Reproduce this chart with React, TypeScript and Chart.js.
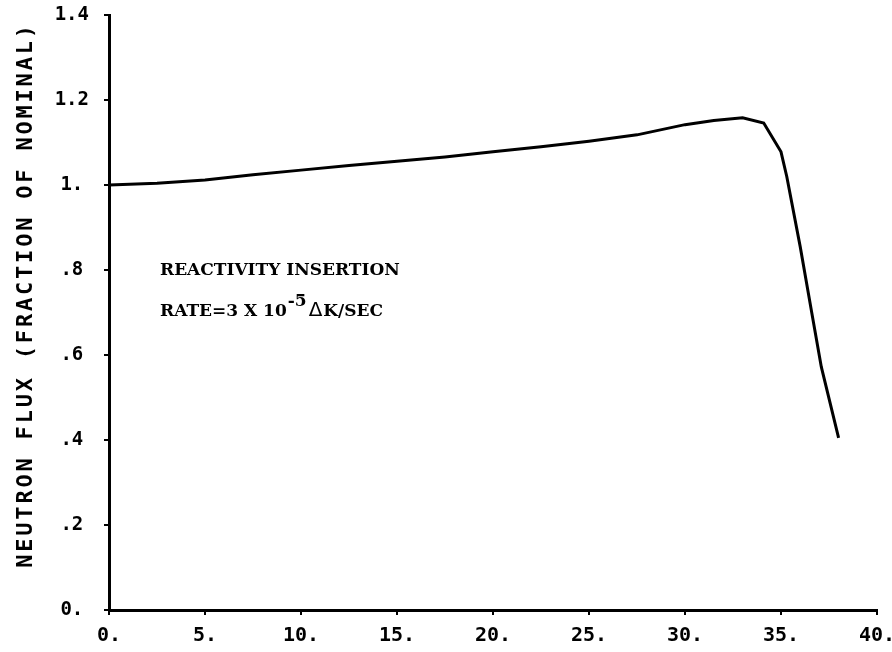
import React, { useEffect, useRef } from "react";
import { Chart, registerables } from "chart.js";

Chart.register(...registerables);

// Reactor transient: time (s) vs. neutron flux (fraction of nominal)
const timeSec = [0, 2.5, 5, 7.5, 10, 12.5, 15, 17.5, 20, 22.5, 25, 27.5, 30, 31.5, 33, 34.1, 35, 35.3, 36, 36.6, 37.1, 38];
const flux = [1.0, 1.004, 1.012, 1.024, 1.035, 1.046, 1.056, 1.066, 1.078, 1.09, 1.103, 1.118, 1.142, 1.152, 1.158, 1.146, 1.078, 1.02, 0.855, 0.7, 0.572, 0.405];

const xTicks = [0, 5, 10, 15, 20, 25, 30, 35, 40];
const yTicks = [0, 0.2, 0.4, 0.6, 0.8, 1.0, 1.2, 1.4];

const yTitle = "NEUTRON FLUX (FRACTION OF NOMINAL)";
const noteLine1 = "REACTIVITY INSERTION";
const noteLine2 = "RATE=3 X 10";
const noteExponent = "-5";
const noteDelta = "\u0394";
const noteUnit = "K/SEC";

const tickFont = "'DejaVu Sans Mono', monospace";
const noteFont = "'DejaVu Serif', 'Liberation Serif', serif";

// Plotter-style tick text: "0." for zero, ".8" for fractions, "1.2" otherwise
function fmtX(v: number): string {
  return `${Math.round(v)}.`;
}
function fmtY(v: number): string {
  const r = Math.round(v * 10) / 10;
  if (r === 0) return "0.";
  if (Number.isInteger(r)) return `${r}.`;
  const s = r.toFixed(1);
  return s.startsWith("0") ? s.slice(1) : s;
}

const textPlugin = {
  id: "plotText",
  afterDraw(chart: any) {
    const ctx = chart.ctx as CanvasRenderingContext2D;
    ctx.save();
    ctx.fillStyle = "#000";

    // rotated y-axis title, letter-spaced
    ctx.save();
    (ctx as any).letterSpacing = "2.8px";
    ctx.font = `bold 22px ${tickFont}`;
    ctx.translate(26, 295);
    ctx.rotate(-Math.PI / 2);
    ctx.textAlign = "center";
    ctx.textBaseline = "middle";
    ctx.fillText(yTitle, 0, 0);
    ctx.restore();

    // annotation block
    const x0 = 160;
    ctx.textAlign = "left";
    ctx.textBaseline = "alphabetic";
    ctx.font = `bold 17px ${noteFont}`;
    ctx.fillText(noteLine1, x0, 275);

    let x = x0;
    const base = 316;
    ctx.fillText(noteLine2, x, base);
    x += ctx.measureText(noteLine2).width + 1;
    ctx.fillText(noteExponent, x, base - 10);
    x += ctx.measureText(noteExponent).width + 2;
    ctx.font = `20px 'DejaVu Sans', sans-serif`;
    ctx.fillText(noteDelta, x, base);
    x += ctx.measureText(noteDelta).width + 1;
    ctx.font = `bold 17px ${noteFont}`;
    ctx.fillText(noteUnit, x, base);

    ctx.restore();
  },
};

export default function App() {
  const canvasRef = useRef<HTMLCanvasElement | null>(null);

  useEffect(() => {
    document.body.style.margin = "0";
    const canvas = canvasRef.current;
    if (!canvas) return;

    const chart = new Chart(canvas, {
      type: "line",
      data: {
        datasets: [
          {
            data: timeSec.map((t, i) => ({ x: t, y: flux[i] })),
            borderColor: "#000",
            borderWidth: 3,
            pointRadius: 0,
            tension: 0,
            fill: false,
          },
        ],
      },
      options: {
        animation: false,
        responsive: false,
        maintainAspectRatio: false,
        layout: { padding: { top: 15, right: 15, left: 0, bottom: 0 } },
        plugins: {
          legend: { display: false },
          tooltip: { enabled: false },
        },
        scales: {
          x: {
            type: "linear",
            min: 0,
            max: 40,
            afterBuildTicks: (scale: any) => {
              scale.ticks = xTicks.map((v) => ({ value: v }));
            },
            afterFit: (scale: any) => {
              scale.height = 42;
              scale.paddingLeft = 0;
              scale.paddingRight = 0;
            },
            border: { color: "#000", width: 3 },
            grid: {
              drawOnChartArea: false,
              color: "#000",
              lineWidth: 2,
              tickLength: 5,
            },
            ticks: {
              color: "#000",
              padding: 9,
              maxRotation: 0,
              font: { family: tickFont, size: 20, weight: "bold" },
              callback: (v: any) => fmtX(Number(v)),
            },
          },
          y: {
            type: "linear",
            min: 0,
            max: 1.4,
            afterBuildTicks: (scale: any) => {
              scale.ticks = yTicks.map((v) => ({ value: v }));
            },
            afterFit: (scale: any) => {
              scale.width = 109;
              scale.paddingTop = 0;
              scale.paddingBottom = 0;
            },
            border: { color: "#000", width: 3 },
            grid: {
              drawOnChartArea: false,
              color: "#000",
              lineWidth: 2,
              tickLength: 5,
            },
            ticks: {
              color: "#000",
              padding: 15,
              crossAlign: "center",
              font: { family: tickFont, size: 19, weight: "bold" },
              callback: (v: any) => fmtY(Number(v)),
            },
          },
        },
      },
      plugins: [textPlugin],
    } as any);

    return () => chart.destroy();
  }, []);

  return (
    <div style={{ width: 892, height: 652, background: "#fff" }}>
      <canvas ref={canvasRef} width={892} height={652} />
    </div>
  );
}
